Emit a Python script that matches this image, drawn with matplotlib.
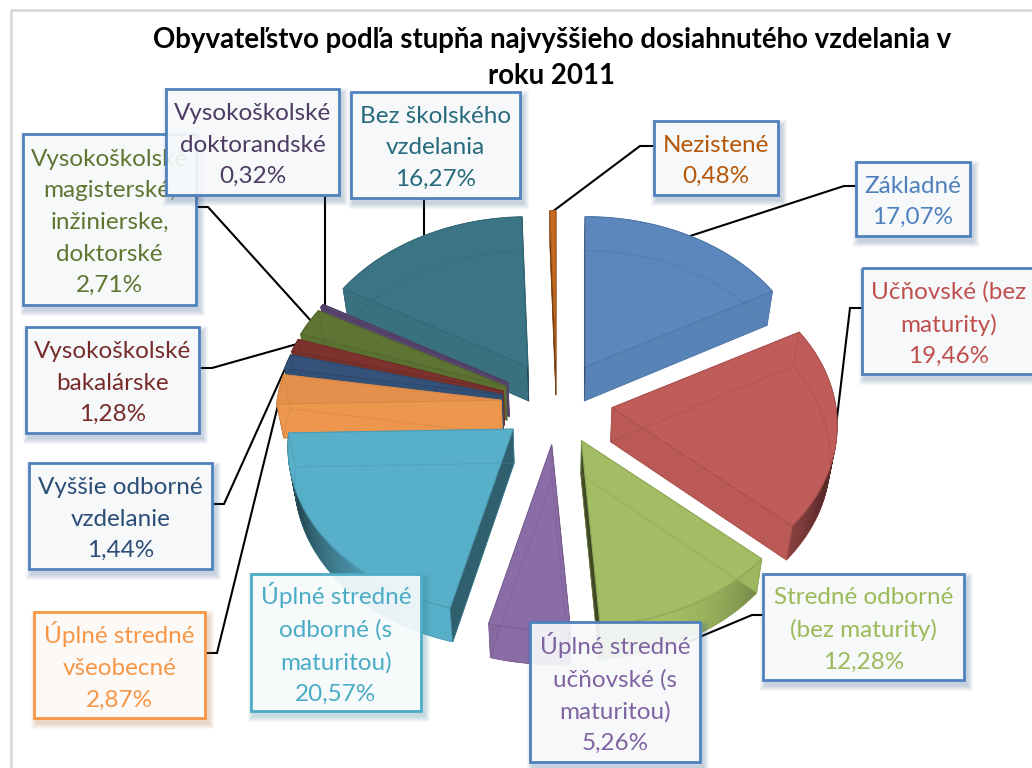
import numpy as np
import matplotlib
matplotlib.use("Agg")
import matplotlib.pyplot as plt
from matplotlib.patches import Polygon, Rectangle
from matplotlib.colors import to_rgb

plt.rcParams['font.family'] = ['Lato', 'DejaVu Sans']

title_text = "Obyvateľstvo podľa stupňa najvyššieho dosiahnutého vzdelania v\nroku 2011"

categories = [
    "Základné", "Učňovské (bez\nmaturity)", "Stredné odborné\n(bez maturity)",
    "Úplné stredné\nučňovské (s\nmaturitou)", "Úplné stredné\nodborné (s\nmaturitou)",
    "Úplné stredné\nvšeobecné", "Vyššie odborné\nvzdelanie", "Vysokoškolské\nbakalárske",
    "Vysokoškolské\nmagisterské,\ninžinierske,\ndoktorské", "Vysokoškolské\ndoktorandské",
    "Bez školského\nvzdelania", "Nezistené",
]
values = [17.07, 19.46, 12.28, 5.26, 20.57, 2.87, 1.44, 1.28, 2.71, 0.32, 16.27, 0.48]

text_colors = ['#4F81BD', '#C0504D', '#9BBB59', '#8064A2', '#4BACC6', '#F79646',
               '#2C4D75', '#772C2A', '#5F7530', '#4D3B62', '#276A7C', '#B65708']
body_colors = ['#5B87BD', '#C05C59', '#A2BD63', '#8A6CA6', '#58AFC9', '#F49B50',
               '#34527A', '#7D322D', '#5E7434', '#5A4670', '#3B7585', '#C56A20']
face_colors = ['#5B87BD', '#C05C59', '#A2BD63', '#8A6CA6', '#58AFC9', '#E58F4C',
               '#34527A', '#7D322D', '#5E7434', '#5A4670', '#3B7585', '#C56A20']
border_colors = ['#4F81BD'] * 12
border_colors[4] = '#4BACC6'
border_colors[5] = '#F79646'

# label boxes: left, top, right, bottom (pixels)
boxes = [(856, 162, 970, 236), (862, 268, 1040, 374), (763, 574, 964, 680),
         (530, 622, 700, 762), (251, 574, 421, 711), (34, 612, 205, 718),
         (29, 463, 212, 569), (26, 327, 199, 433), (23, 134, 196, 305),
         (166, 89, 339, 195), (351, 92, 520, 198), (654, 121, 778, 195)]
# leader polylines (pixels); the purple and aqua labels have none
leaders = [[(856, 186), (844, 186), (687, 237)], [(862, 308), (850, 308), (836, 426)],
           [(763, 615), (752, 615), (690, 641)], None, None,
           [(205, 653), (217, 653), (282, 389)], [(212, 504), (224, 504), (289, 360)],
           [(199, 368), (212, 368), (297, 344)], [(196, 207), (208, 207), (312, 322)],
           [(325, 195), (325, 306)], [(424, 198), (424, 238)], [(654, 146), (640, 146), (552, 212)]]

CX, CY = 556.7, 403.0      # pie centre
EX, EY = 55.6, 42.0        # explosion
RX, RY, K = 224.0, 166.0, 0.105  # radius and perspective
DEPTH, SHRINK = 34.0, 0.025

vals = np.array(values, dtype=float)
edges = np.concatenate([[0], np.cumsum(vals)]) / vals.sum() * 360.0


def top_points(theta, apex):
    t = np.radians(theta)
    u, v = np.sin(t), np.cos(t)
    w = 1 + K * v
    return np.column_stack([apex[0] + RX * u / w, apex[1] - RY * v / w])


def to_bottom(p):
    p = np.atleast_2d(p).astype(float)
    return np.column_stack([p[:, 0] - SHRINK * (p[:, 0] - CX), p[:, 1] + DEPTH])


def darker(c, f):
    return tuple(np.array(to_rgb(c)) * (1 - f))


fig = plt.figure(figsize=(10.32, 7.68), dpi=100, facecolor='white')
ax = fig.add_axes([0, 0, 1, 1])
ax.set_xlim(0, 1032)
ax.set_ylim(768, 0)
ax.axis('off')

# chart frame
ax.plot([11, 11, 1032], [768, 10, 10], color='#D9D9D9', lw=2, zorder=1)

# leaders
for ln in leaders:
    if ln:
        xs, ys = zip(*ln)
        ax.plot(xs, ys, color='black', lw=1.5, zorder=2, solid_joinstyle='miter')

# slices, back to front
mids = (edges[:-1] + edges[1:]) / 2
order = np.argsort(-np.cos(np.radians(mids)))
z = 3.0
for i in order:
    a0, a1, m = edges[i], edges[i + 1], np.radians(mids[i])
    apex = (CX + EX * np.sin(m), CY - EY * np.cos(m))
    th = np.linspace(a0, a1, max(3, int((a1 - a0) * 1.5) + 2))
    arc = top_points(th, apex)
    arc_b = to_bottom(arc)
    ap = np.array([apex])
    ap_b = to_bottom(ap)
    body = body_colors[i]
    top_poly = np.vstack([ap, arc])
    bot_poly = np.vstack([ap_b, arc_b])
    ax.add_patch(Polygon(bot_poly, closed=True, fc=body, ec=body, lw=0.4, zorder=z))
    # outer wall strips
    for j in range(len(th) - 1):
        tm = np.radians((th[j] + th[j + 1]) / 2)
        f = 0.7 * np.clip((abs(np.sin(tm)) - 0.3) / 0.7, 0, 1) ** 2 if np.cos(tm) < 0.1 else 0
        col = darker(body, f)
        ax.add_patch(Polygon(np.vstack([arc[j], arc[j + 1], arc_b[j + 1], arc_b[j]]), closed=True,
                             fc=col, ec=col, lw=0.4, zorder=z + 0.01))
    # radial walls, the more shaded (front-facing) one last
    walls = []
    for ang, pt, pt_b, sign in ((a0, arc[0], arc_b[0], -1), (a1, arc[-1], arc_b[-1], 1)):
        normal = np.radians(ang + sign * 90)
        f = 0.6 * np.clip((abs(np.sin(normal)) - 0.6) / 0.4, 0, 1) ** 4 if np.cos(normal) < 0.1 else 0
        walls.append((f, pt, pt_b))
    walls.sort(key=lambda w: w[0])
    for k, (f, pt, pt_b) in enumerate(walls):
        col = darker(body, f + 0.03)
        ax.add_patch(Polygon(np.vstack([ap, pt, pt_b, ap_b]), closed=True,
                             fc=col, ec=col, lw=0.4, zorder=z + 0.02 + k * 0.001))
    # top face
    ax.add_patch(Polygon(top_poly, closed=True, fc=face_colors[i],
                         ec=darker(body, 0.12), lw=0.8, zorder=z + 0.03))
    # edges seen through the glassy top
    line = darker(body, 0.18)
    ax.add_patch(Polygon(bot_poly, closed=True, fc='none', ec=line, lw=0.7, alpha=0.4, zorder=z + 0.04))
    for a, b in ((ap[0], ap_b[0]), (arc[0], arc_b[0]), (arc[-1], arc_b[-1])):
        ax.plot([a[0], b[0]], [a[1], b[1]], color=line, lw=0.7, alpha=0.4, zorder=z + 0.04)
    z += 0.1

# label boxes
zb = 10.0
for i in [8, 9, 10, 7, 6, 5, 4, 3, 2, 1, 0, 11]:
    l, t, r, b = boxes[i]
    ec = border_colors[i]
    for g in range(1, 7):
        pad = 7 - g
        ax.add_patch(Rectangle((l + 3 - pad, t + 5 - pad), r - l + 2 * pad, b - t + 2 * pad,
                               fc=darker(ec, 0.25), ec='none', alpha=0.05, zorder=zb))
    tint = tuple(0.985 * np.array((1, 1, 1)) + 0.015 * np.array(to_rgb(ec)))
    ax.add_patch(Rectangle((l, t), r - l, b - t, fc=tint, ec='none', alpha=0.9, zorder=zb + 0.1))
    ax.add_patch(Rectangle((l, t), r - l, b - t, fc='none', ec=ec, lw=2.0, zorder=zb + 0.2))
    label = categories[i] + "\n" + f"{values[i]:.2f}".replace('.', ',') + "%"
    cx = (l + r) / 2
    if i == 1:
        cx = 949
    dy = 1 if categories[i].startswith('Ú') else 3
    ax.text(cx, (t + b) / 2 + dy, label, ha='center', va='center', color=text_colors[i],
            fontsize=17.5, linespacing=1.62, zorder=zb + 0.3, multialignment='center')
    zb += 1

ax.text(552, 58, title_text, ha='center', va='center', fontsize=19.9, fontweight='bold',
        color='black', linespacing=1.5, zorder=40)

fig.savefig("out.png", dpi=100, facecolor='white')
